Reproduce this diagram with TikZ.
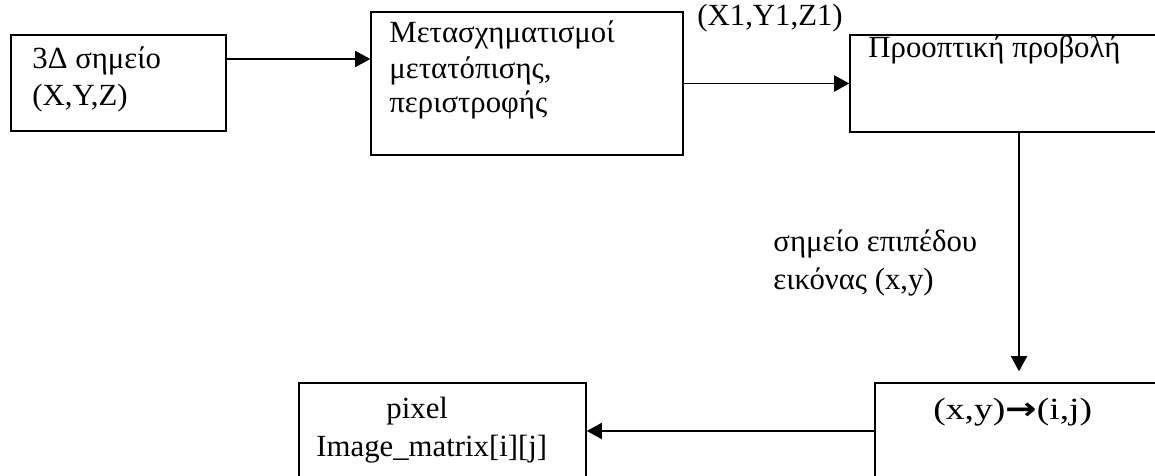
\documentclass[tikz,border=0pt]{standalone}
\usepackage{graphicx}
\usepackage{fontspec}
\setmainfont{Liberation Serif}
\newfontfamily\arrowfont{DejaVu Sans}
\usetikzlibrary{arrows.meta}
\newcommand{\pxu}{0.4615pt}

\begin{document}
\begin{tikzpicture}[x=\pxu, y=-\pxu, >={Triangle[length=7pt,width=7.5pt]},
  font=\fontsize{14.2}{17}\selectfont]
\tikzstyle{block}=[draw, rectangle, line width=0.7pt, inner sep=0]
\tikzstyle{txt}=[anchor=base west, inner sep=0]
\tikzstyle{link}=[->, line width=0.7pt]

\useasboundingbox (0,0) rectangle (1155,476);

% pipeline boxes
\node[block, minimum width=215*\pxu, minimum height=96*\pxu] (point3d) at (118.5,83) {};
\node[block, minimum width=312*\pxu, minimum height=143*\pxu] (transf) at (527,83.5) {};
\node[block, minimum width=338*\pxu, minimum height=97*\pxu] (persp) at (1019,83.5) {};
\node[block, minimum width=288*\pxu, minimum height=96*\pxu] (toidx) at (1019,431) {};
\node[block, minimum width=287*\pxu, minimum height=96*\pxu] (pixel) at (442.5,431) {};

% box texts
\node[txt] at (32,69) {3Δ σημείο};
\node[txt] at (32,106) {(X,Y,Z)};
\node[txt] at (389,43) {Μετασχηματισμοί};
\node[txt] at (389,79) {μετατόπισης,};
\node[txt] at (389,113) {περιστροφής};
\node[txt] at (868,58) {Προοπτική προβολή};
\node[txt] at (933,420) {\scalebox{1.22}[1]{(x,y){\arrowfont\bfseries →}(i,j)}};
\node[txt] at (386,418) {pixel};
\node[txt] at (316,457) {Image\_matrix[i][j]};

% connectors
\draw[link] ([yshift=24*\pxu]point3d.east) -- ([yshift=24*\pxu]point3d.east -| transf.west);
\draw[link] (transf.east) -- (persp.west);
\draw[link, shorten >=11*\pxu] (persp.south) -- (toidx.north);
\draw[link] (toidx.west) -- (pixel.east);

% edge labels
\node[txt] (xyz1) at (697,26) {(X1,Y1,Z1)};
\node[txt] (imgpt1) at (773,252) {σημείο επιπέδου};
\node[txt] (imgpt2) at (773,290) {εικόνας (x,y)};
\end{tikzpicture}
\end{document}
